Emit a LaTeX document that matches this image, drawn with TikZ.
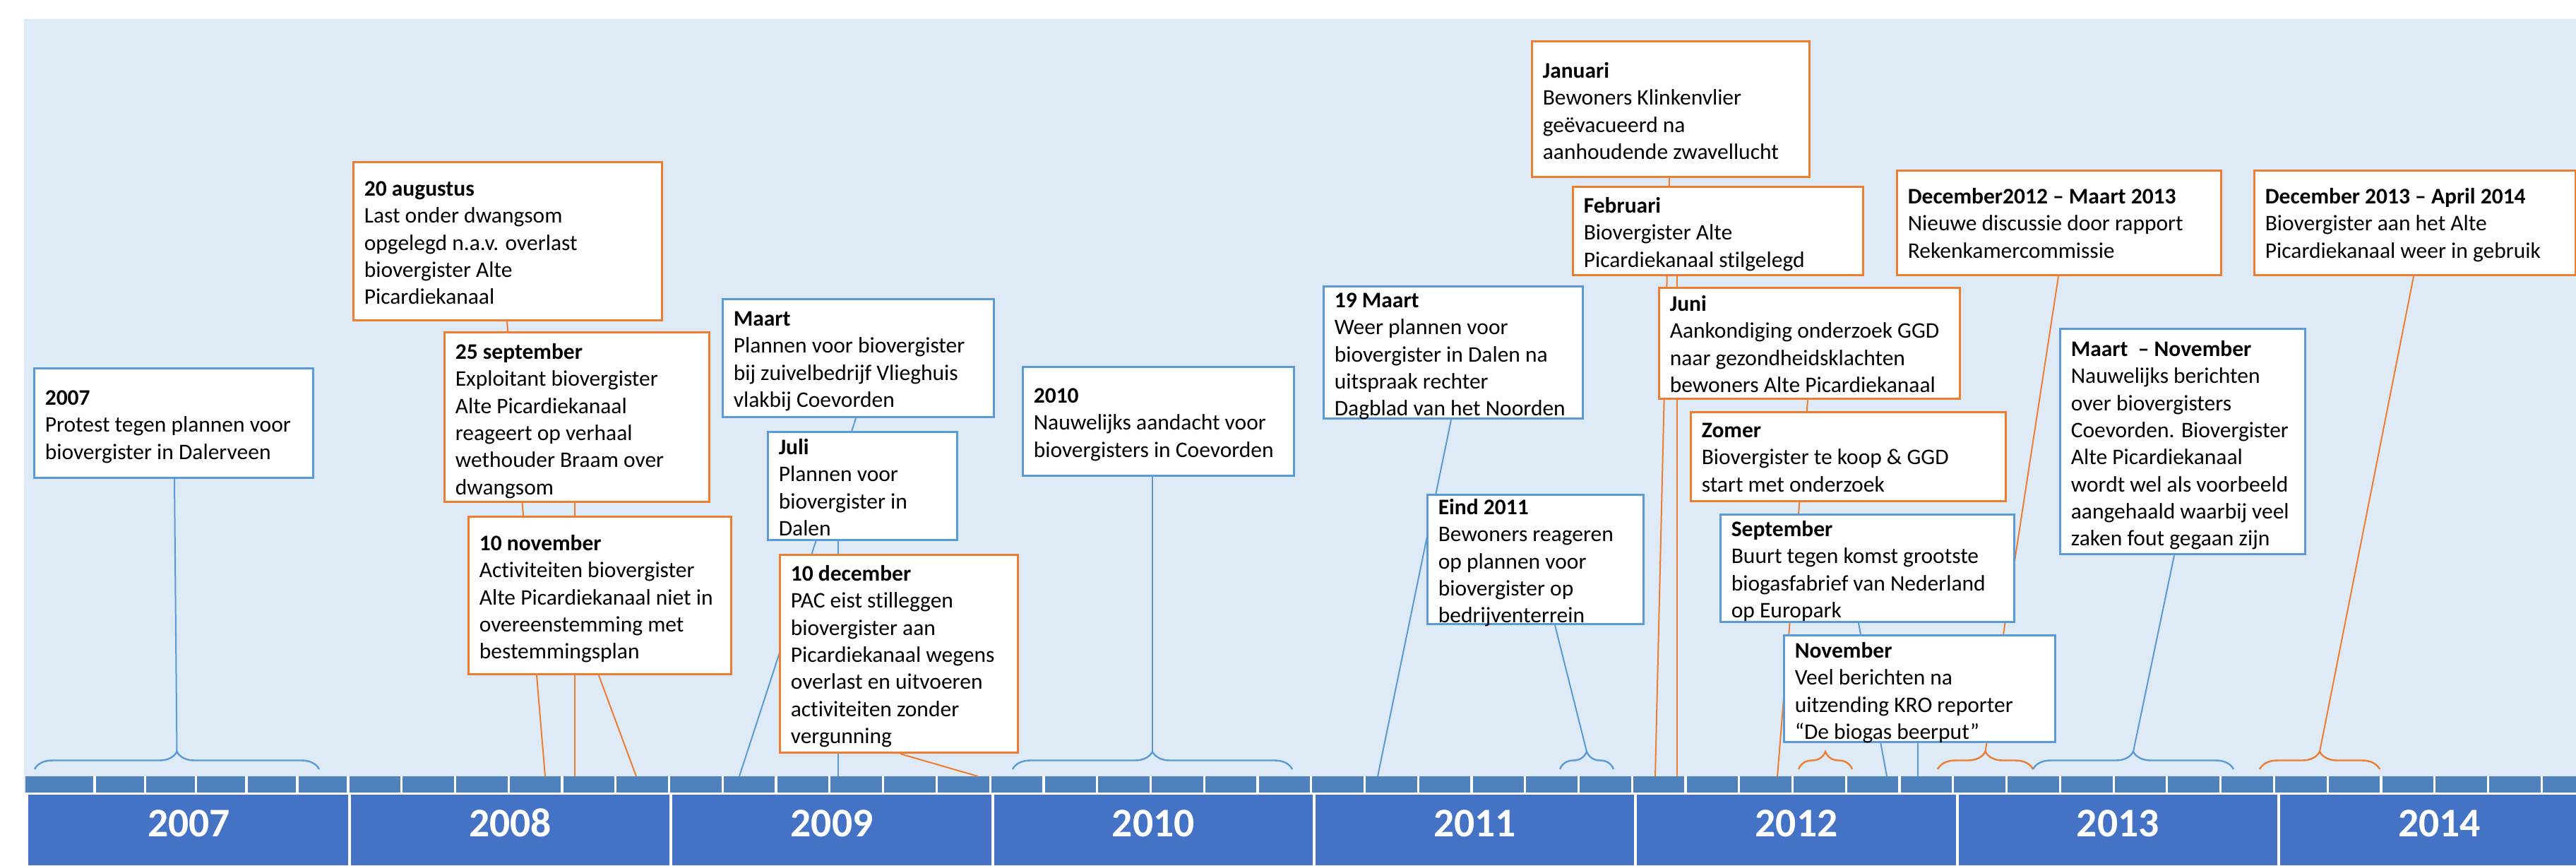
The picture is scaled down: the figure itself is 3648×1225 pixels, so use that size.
\documentclass[tikz,border=0pt]{standalone}
\usepackage{fontspec}
\setmainfont{Carlito}[Ligatures=NoCommon]
\usetikzlibrary{calc,decorations.pathreplacing}
\definecolor{bgblue}{RGB}{222,235,247}
\definecolor{oborder}{RGB}{237,125,49}
\definecolor{bborder}{RGB}{91,155,213}
\definecolor{mstrip}{RGB}{79,129,189}
\definecolor{yearblue}{RGB}{68,114,196}
\pgfdeclarelayer{front}
\pgfsetlayers{main,front}
\tikzset{
  obox/.style={draw=oborder, line width=0.8pt, fill=white, inner sep=0pt, anchor=north west},
  bbox/.style={draw=bborder, line width=0.8pt, fill=white, inner sep=0pt, anchor=north west},
  evtext/.style={font=\fontsize{7.875pt}{9.575pt}\selectfont, align=left, inner sep=0pt, anchor=north west},
  oline/.style={draw=oborder, line width=0.5pt},
  bline/.style={draw=bborder, line width=0.5pt},
  obrace/.style={draw=oborder, line width=0.6pt, decorate, decoration={brace, amplitude=6.25pt}},
  bbrace/.style={draw=bborder, line width=0.6pt, decorate, decoration={brace, amplitude=6.25pt}},
  yearlbl/.style={font=\fontsize{14.4pt}{16pt}\selectfont\bfseries, text=white, anchor=base, inner sep=0pt},
  sepline/.style={draw=white, line width=0.8pt},
}
% #1 name, #2 style, #3 left, #4 top, #5 right, #6 bottom, #7 text top, #8 text
\newcommand\evbox[8]{%
  \node[#2, minimum width={(#5-#3)*0.25pt}, minimum height={(#6-#4)*0.25pt}] (#1) at (#3,#4) {};
  \node[evtext] (#1t) at ({#3+16},#7) {\strut #8};
}
\begin{document}
\begin{tikzpicture}[x=0.25pt,y=-0.25pt]
\useasboundingbox (0,0) rectangle (3648,1225);
% background
\fill[bgblue] (34,27) rectangle (3648,1225);
% month strip
\fill[mstrip] (35.6,1099) rectangle (3648,1122);
\foreach \s in {134,205.5,277.5,349,421}
  \draw[sepline] (\s,1099) -- (\s,1122);
\foreach \k in {0,...,41}
  \draw[sepline] ({493+75.76*\k},1099) -- ({493+75.76*\k},1122);
% year bar
\fill[white] (34,1122) rectangle (3648,1225);
\fill[yearblue] (40,1125) rectangle (3648,1225);
\foreach \b in {495,950.3,1405.7,1861,2316.3,2771.7,3227}
  \draw[draw=white, line width=1pt] (\b,1125) -- (\b,1225);
\node[yearlbl] (yr2007) at (267.5,1184) {2007};
\node[yearlbl] (yr2008) at (722.6,1184) {2008};
\node[yearlbl] (yr2009) at (1178,1184) {2009};
\node[yearlbl] (yr2010) at (1633.3,1184) {2010};
\node[yearlbl] (yr2011) at (2088.7,1184) {2011};
\node[yearlbl] (yr2012) at (2544,1184) {2012};
\node[yearlbl] (yr2013) at (2999.3,1184) {2013};
\node[yearlbl] (yr2014) at (3454.7,1184) {2014};
% braces
\coordinate (b07l) at (49,1089);   \coordinate (b07r) at (452,1089);
\coordinate (b10l) at (1434,1089); \coordinate (b10r) at (1830,1089);
\coordinate (b11l) at (2209,1089); \coordinate (b11r) at (2285,1089);
\coordinate (bzol) at (2547,1089); \coordinate (bzor) at (2623,1089);
\coordinate (b12l) at (2744,1089); \coordinate (b12r) at (2879,1089);
\coordinate (b13l) at (2879,1089); \coordinate (b13r) at (3163,1089);
\coordinate (b14l) at (3200,1089); \coordinate (b14r) at (3370,1089);
\draw[bbrace] (b07l) -- (b07r);
\draw[bbrace] (b10l) -- (b10r);
\draw[bbrace] (b11l) -- (b11r);
\draw[obrace] (bzol) -- (bzor);
\draw[obrace] (b12l) -- (b12r);
\draw[bbrace] (b13l) -- (b13r);
\draw[obrace] (b14l) -- (b14r);
\coordinate (b07t) at ($(b07l)!0.5!(b07r)+(0,-25)$);
\coordinate (b10t) at ($(b10l)!0.5!(b10r)+(0,-25)$);
\coordinate (b11t) at ($(b11l)!0.5!(b11r)+(0,-25)$);
\coordinate (b12t) at ($(b12l)!0.5!(b12r)+(0,-25)$);
\coordinate (b13t) at ($(b13l)!0.5!(b13r)+(0,-25)$);
\coordinate (b14t) at ($(b14l)!0.5!(b14r)+(0,-25)$);
% axis end points
\coordinate (aaug) at (772,1099);
\coordinate (asep) at (814,1099);
\coordinate (anov) at (901,1099);
\coordinate (amrt) at (1047,1099);
\coordinate (ajul) at (1187,1099);
\coordinate (adec) at (1385,1099);
\coordinate (amrt11) at (1951,1099);
\coordinate (ajan) at (2344,1099);
\coordinate (afeb) at (2375,1099);
\coordinate (ajun) at (2517,1099);
\coordinate (asep12) at (2672,1099);
\coordinate (anov12) at (2716,1099);
% event boxes on the front layer
\begin{pgfonlayer}{front}
\evbox{y2007}{bbox}{47}{520}{442}{675}{546}{\textbf{2007}\\Protest tegen plannen voor\\biovergister in Dalerveen}
\evbox{aug}{obox}{499}{228}{936}{452}{250}{\textbf{20 augustus}\\Last onder dwangsom\\opgelegd n.a.v. overlast\\biovergister Alte\\Picardiekanaal}
\evbox{sep}{obox}{628}{469}{1003}{709}{481}{\textbf{25 september}\\Exploitant biovergister\\Alte Picardiekanaal\\reageert op verhaal\\wethouder Braam over\\dwangsom}
\evbox{nov}{obox}{662}{730}{1034}{953}{752}{\textbf{10 november}\\Activiteiten biovergister\\Alte Picardiekanaal niet in\\overeenstemming met\\bestemmingsplan}
\evbox{mrt}{bbox}{1022}{422}{1406}{589}{434}{\textbf{Maart}\\Plannen voor biovergister\\bij zuivelbedrijf Vlieghuis\\vlakbij Coevorden}
\evbox{jul}{bbox}{1086}{610}{1354}{763}{616}{\textbf{Juli}\\Plannen voor\\biovergister in\\Dalen}
\evbox{dec}{obox}{1103}{784}{1440}{1064}{795}{\textbf{10 december}\\PAC eist stilleggen\\biovergister aan\\Picardiekanaal wegens\\overlast en uitvoeren\\activiteiten zonder\\vergunning}
\evbox{y2010}{bbox}{1447}{518}{1831}{672}{543}{\textbf{2010}\\Nauwelijks aandacht voor\\biovergisters in Coevorden}
\evbox{mrt11}{bbox}{1873}{404}{2240}{591}{408}{\textbf{19 Maart}\\Weer plannen voor\\biovergister in Dalen na\\uitspraak rechter\\Dagblad van het Noorden}
\evbox{eind11}{bbox}{2020}{699}{2326}{882}{701}{\textbf{Eind 2011}\\Bewoners reageren\\op plannen voor\\biovergister op\\bedrijventerrein}
\evbox{jan}{obox}{2168}{57}{2561}{249}{83}{\textbf{Januari}\\Bewoners Klinkenvlier\\geëvacueerd na\\aanhoudende zwavellucht}
\evbox{feb}{obox}{2226}{263}{2637}{388}{274}{\textbf{Februari}\\Biovergister Alte\\Picardiekanaal stilgelegd}
\evbox{jun}{obox}{2348}{406}{2774}{563}{413}{\textbf{Juni}\\Aankondiging onderzoek GGD\\naar gezondheidsklachten\\bewoners Alte Picardiekanaal}
\evbox{zomer}{obox}{2393}{582}{2839}{708}{592}{\textbf{Zomer}\\Biovergister te koop \& GGD\\start met onderzoek}
\evbox{sep12}{bbox}{2435}{727}{2851}{879}{732}{\textbf{September}\\Buurt tegen komst grootste\\biogasfabrief van Nederland\\op Europark}
\evbox{nov12}{bbox}{2525}{898}{2909}{1049}{904}{\textbf{November}\\Veel berichten na\\uitzending KRO reporter\\“De biogas beerput”}
\evbox{dec12}{obox}{2685}{240}{3144}{388}{261}{\textbf{December2012 – Maart 2013}\\Nieuwe discussie door rapport\\Rekenkamercommissie}
\evbox{mn13}{bbox}{2916}{464}{3263}{783}{477}{\textbf{Maart\ \ – November}\\Nauwelijks berichten\\over biovergisters\\Coevorden. Biovergister\\Alte Picardiekanaal\\wordt wel als voorbeeld\\aangehaald waarbij veel\\zaken fout gegaan zijn}
\evbox{dec13}{obox}{3191}{240}{3646}{388}{261}{\textbf{December 2013 – April 2014}\\Biovergister aan het Alte\\Picardiekanaal weer in gebruik}
\end{pgfonlayer}
% connectors (main layer, behind boxes)
\draw[bline] ($(y2007.south west)+(200,0)$) -- (b07t);
\draw[oline] ($(aug.south west)+(219,0)$) -- (aaug);
\draw[oline] ($(sep.south west)+(186,0)$) -- (asep);
\draw[oline] ($(nov.south west)+(186,0)$) -- (anov);
\draw[bline] ($(mrt.south west)+(190,0)$) -- (amrt);
\draw[bline] ($(jul.south west)+(101,0)$) -- (ajul);
\draw[oline] ($(dec.south west)+(172,0)$) -- (adec);
\draw[bline] ($(y2010.south west)+(185,0)$) -- (b10t);
\draw[bline] ($(mrt11.south west)+(182,0)$) -- (amrt11);
\draw[bline] ($(eind11.south west)+(182,0)$) -- (b11t);
\draw[oline] ($(jan.south west)+(196,0)$) -- (ajan);
\draw[oline] ($(feb.south west)+(149,0)$) -- (afeb);
\draw[oline] ($(jun.south west)+(212,0)$) -- (ajun);
\draw[bline] ($(sep12.south west)+(197,0)$) -- (asep12);
\draw[bline] ($(nov12.south west)+(191,0)$) -- (anov12);
\draw[oline] ($(dec12.south west)+(230,0)$) -- (b12t);
\draw[bline] ($(mn13.south west)+(163,0)$) -- (b13t);
\draw[oline] ($(dec13.south west)+(227,0)$) -- (b14t);
\end{tikzpicture}
\end{document}
